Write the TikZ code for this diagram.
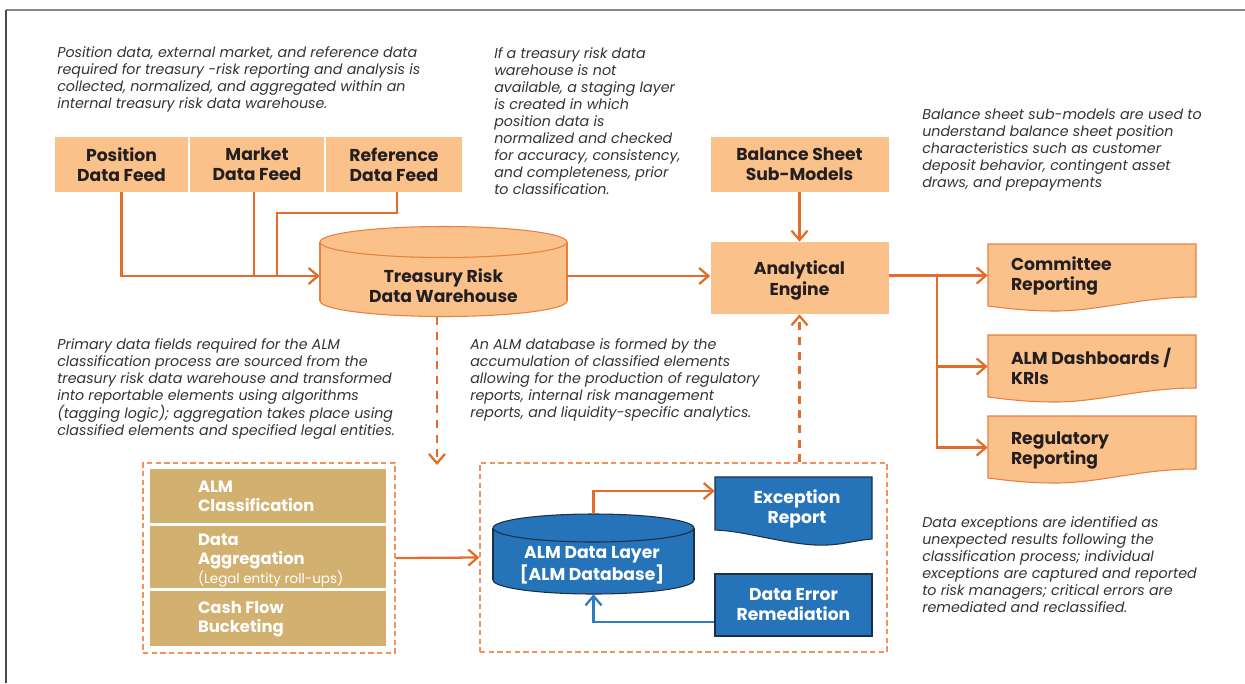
\documentclass[tikz,border=0pt]{standalone}
\usepackage{fontspec}
\setmainfont{Poppins}
\usetikzlibrary{arrows.meta,calc}
\definecolor{flowc}{HTML}{E36C2B}
\definecolor{peach}{HTML}{FBC18A}
\definecolor{peachedge}{HTML}{E8803F}
\definecolor{gold}{HTML}{D2B170}
\definecolor{dbblue}{HTML}{2574B9}
\definecolor{navy}{HTML}{1D2F45}
\definecolor{linkblue}{HTML}{2F7DC1}
\definecolor{ink}{HTML}{231F20}
\definecolor{notegray}{HTML}{333333}
\definecolor{dashc}{HTML}{EF9460}
\definecolor{framegray}{HTML}{8A8A8A}
\definecolor{framedark}{HTML}{4A4A4A}

\begin{document}
\begin{tikzpicture}[x=0.75pt,y=-0.75pt,
  note/.style={inner sep=0pt, anchor=north west, align=left, text=notegray,
     font=\fontsize{10.7}{12.75}\selectfont\itshape},
  boldtxt/.style={font=\fontsize{12.9}{15}\selectfont\bfseries},
  feedbox/.style={boldtxt, fill=peach, text=ink, align=center, inner sep=0pt,
     minimum height=41.25pt},
  ghost/.style={inner sep=0pt, draw=none},
  goldbox/.style={fill=gold, minimum width=177pt, inner sep=0pt},
  goldtxt/.style={font=\fontsize{12.3}{14}\selectfont\bfseries, text=white,
     align=left, inner sep=0pt, anchor=west},
  flow/.style={draw=flowc, line width=1.7pt},
  bflow/.style={draw=linkblue, line width=1.7pt},
  tip/.style={-{Straight Barb[length=7pt,width=12pt]}},
  dashflow/.style={flow, dash pattern=on 6pt off 5pt},
  group/.style={draw=dashc, line width=0.9pt, dash pattern=on 4pt off 2.5pt},
  docshape/.style={fill=peach, draw=peachedge, line width=0.8pt},
  bluefill/.style={fill=dbblue, draw=navy, line width=0.8pt},
  doctxt/.style={boldtxt, text=ink, align=left, inner sep=0pt, anchor=west},
  whitetxt/.style={boldtxt, text=white, align=center, inner sep=0pt},
  reportdoc/.pic={
    \filldraw[docshape] (0,0) -- (208,0) -- (208,53)
      .. controls (152,53) and (112,67) .. (67,67)
      .. controls (37,67) and (17,64) .. (0,62) -- cycle;
  },
]

\useasboundingbox (0,0) rectangle (1245,683);

% page frame
\draw[framegray, line width=1pt] (6,10) -- (1245,10);
\draw[framedark, line width=1pt] (6,10) -- (6,683);

% ---------- explanatory notes ----------
\node[note] (n1) at (57,46) {Position data, external market, and reference data\\
required for treasury -risk reporting and analysis is\\
collected, normalized, and aggregated within an\\
internal treasury risk data warehouse.};

\node[note] (n2) at (494,47) {If a treasury risk data\\
warehouse is not\\
available, a staging layer\\
is created in which\\
position data is\\
normalized and checked\\
for accuracy, consistency,\\
and completeness, prior\\
to classification.};

\node[note] (n3) at (922,109) {Balance sheet sub-models are used to\\
understand balance sheet position\\
characteristics such as customer\\
deposit behavior, contingent asset\\
draws, and prepayments};

\node[note] (n4) at (57,338) {Primary data fields required for the ALM\\
classification process are sourced from the\\
treasury risk data warehouse and transformed\\
into reportable elements using algorithms\\
(tagging logic); aggregation takes place using\\
classified elements and specified legal entities.};

\node[note] (n5) at (470,338) {An ALM database is formed by the\\
accumulation of classified elements\\
allowing for the production of regulatory\\
reports, internal risk management\\
reports, and liquidity-specific analytics.};

\node[note] (n6) at (922,516) {Data exceptions are identified as\\
unexpected results following the\\
classification process; individual\\
exceptions are captured and reported\\
to risk managers; critical errors are\\
remediated and reclassified.};

% ---------- data feeds ----------
\node[feedbox, minimum width=99.75pt] (pos) at (121.5,164.5) {Position\\Data Feed};
\node[feedbox, minimum width=100.5pt] (mkt) at (257,164.5) {Market\\Data Feed};
\node[feedbox, minimum width=102pt] (ref) at (394,164.5) {Reference\\Data Feed};

% ---------- treasury risk data warehouse (cylinder) ----------
\node[ghost, minimum width=185.25pt, minimum height=68.25pt] (twh) at (443.5,271.5) {};
\filldraw[docshape] (443.5,301) ellipse [x radius=123.5, y radius=15.5];
\fill[peach] (320,242) rectangle (567,301);
\draw[peachedge, line width=0.8pt] (320,242) -- (320,301) (567,242) -- (567,301);
\filldraw[docshape] (443.5,242) ellipse [x radius=123.5, y radius=15.5];
\node[boldtxt, text=ink, align=center] at (443.5,286) {Treasury Risk\\Data Warehouse};

\coordinate (twhin) at ([yshift=-3.375pt]twh.west);
\coordinate (twhout) at ([yshift=-3.375pt]twh.east);

\draw[flow,tip] (pos.south) |- (twhin);
\draw[flow] ([xshift=-2.25pt]mkt.south) -- ([xshift=-2.25pt]mkt.south |- twhin);
\draw[flow] ([xshift=2.25pt]ref.south) -- ++(0,21) -| ([xshift=-32.25pt]twhin);

% ---------- balance sheet / analytical engine ----------
\node[feedbox, minimum width=133.5pt] (bs) at (799.5,164.5) {Balance Sheet\\Sub-Models};
\node[feedbox, minimum width=133.5pt, minimum height=54pt] (ae) at (799.5,278) {};
\node[boldtxt, text=ink, align=center, font=\fontsize{12.9}{15.75}\selectfont\bfseries]
  at ($(ae.center)+(0,2)$) {Analytical\\Engine};

\draw[flow,tip] (twhout) -- (ae.west |- twhout);
\draw[flow,tip] (bs.south) -- (ae.north);

% ---------- reports ----------
\pic at (988,244) {reportdoc};
\pic at (988,335) {reportdoc};
\pic at (988,416) {reportdoc};
\node[ghost, minimum width=156pt, minimum height=47.25pt] (cr) at (1092,275.5) {};
\node[ghost, minimum width=156pt, minimum height=47.25pt] (dsh) at (1092,366.5) {};
\node[ghost, minimum width=156pt, minimum height=47.25pt] (reg) at (1092,447.5) {};
\node[doctxt] at ($(cr.west)+(23,0.5)$) {Committee\\Reporting};
\node[doctxt] at ($(dsh.west)+(23,0)$) {ALM Dashboards /\\KRIs};
\node[doctxt] at ($(reg.west)+(23,2.5)$) {Regulatory\\Reporting};

\coordinate (fork) at ($(ae.east |- cr.west)+(48,0)$);
\draw[flow,tip] (ae.east |- cr.west) -- (cr.west);
\draw[flow,tip] (fork) |- (dsh.west);
\draw[flow,tip] (fork) |- (reg.west);

% ---------- classification group ----------
\node[group, minimum width=189pt, minimum height=142.5pt, inner sep=0pt] (lft) at (269,558) {};
\node[goldbox, minimum height=40.5pt] (cls) at (268,496) {};
\node[goldbox, minimum height=46.5pt] (agg) at (268,557) {};
\node[goldbox, minimum height=41.25pt] (cfb) at (268,618.5) {};
\node[goldtxt] at ($(cls.west)+(48,0.5)$) {ALM\\Classification};
\node[goldtxt] at ($(agg.west)+(48,3.5)$) {Data\\Aggregation\\{\fontsize{10.1}{13}\selectfont\mdseries (Legal entity roll-ups)}};
\node[goldtxt] at ($(cfb.west)+(48,0.5)$) {Cash Flow\\Bucketing};

\coordinate (clsin) at (437,465);
\draw[dashflow,tip] ([xshift=-4.875pt]twh.south) -- (clsin);

% ---------- ALM database group ----------
\node[group, minimum width=305.25pt, minimum height=141.75pt, inner sep=0pt] (mid) at (683.5,557.5) {};
\draw[flow,tip] (lft.east) -- (mid.west);

\node[ghost, minimum width=150.75pt, minimum height=60pt] (alm) at (593.5,554) {};
\filldraw[bluefill] (593.5,580) ellipse [x radius=100.5, y radius=14];
\fill[dbblue] (493,528) rectangle (694,580);
\draw[navy, line width=0.8pt] (493,528) -- (493,580) (694,528) -- (694,580);
\filldraw[bluefill] (593.5,528) ellipse [x radius=100.5, y radius=14];
\node[whitetxt] at (592,565.5) {ALM Data Layer\\{[}ALM Database{]}};

\filldraw[bluefill] (715,477) -- (872,477) -- (872,539)
  .. controls (850,541) and (840,546) .. (815,545)
  .. controls (780,543) and (745,531) .. (715,530) -- cycle;
\node[ghost, minimum width=117.75pt, minimum height=39.75pt] (excbox) at (793.5,503.5) {};
\node[whitetxt] (exc) at (797,509) {Exception\\Report};

\node[bluefill, whitetxt, minimum width=117.75pt, minimum height=46.5pt] (der) at (793.5,605) {Data Error\\Remediation};

\draw[flow,tip] (alm.north) |- ([yshift=9.375pt]excbox.west);
\draw[bflow,tip] ([yshift=-12.75pt]der.west) -| (alm.south);

\draw[dashflow,tip] (mid.north -| ae.south) -- (ae.south);

\end{tikzpicture}
\end{document}
